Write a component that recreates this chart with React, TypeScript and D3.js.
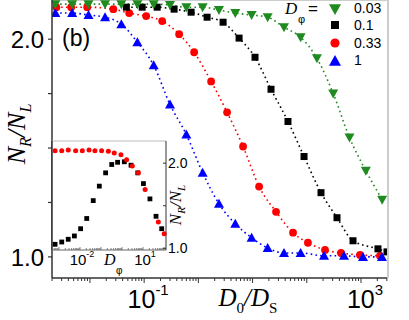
import React from 'react'
import * as d3 from 'd3'

const W = 409
const H = 320

// main panel: N_R/N_L against D0/DS, one series per D_phi
const xGrid = [0.0023, 0.0047, 0.0094, 0.019, 0.038, 0.075, 0.15, 0.3, 0.6, 1.2, 2.4, 4.8, 9.6, 19, 38, 77, 154, 307, 614, 1229, 2458]

const greenX = xGrid
const greenY = [2.161, 2.161, 2.161, 2.161, 2.161, 2.161, 2.161, 2.157, 2.147, 2.147, 2.134, 2.12, 2.111, 2.101, 2.055, 2.009, 1.912, 1.751, 1.548, 1.396, 1.263]

const blackX = [0.047, 0.092, 0.174, 0.357, 0.735, 1.45, 2.86, 5.64, 11.1, 21.9, 45, 89, 183, 361, 713, 2056, 3020]
const blackY = [2.147, 2.147, 2.147, 2.138, 2.124, 2.101, 2.078, 2.005, 1.917, 1.77, 1.622, 1.461, 1.295, 1.18, 1.074, 1.037, 1.023]

const redX = [0.0024, 0.0045, 0.0089, 0.027, 0.053, 0.109, 0.215, 0.442, 0.836, 1.72, 3.39, 6.68, 13.2, 27.1, 55.8, 105, 217, 428, 960, 2239]
const redY = [2.147, 2.147, 2.147, 2.138, 2.12, 2.106, 2.083, 2.023, 1.94, 1.806, 1.664, 1.507, 1.323, 1.207, 1.111, 1.065, 1.032, 1.018, 1.009, 1.005]

const blueX = xGrid.slice(0, 16).concat([208, 486, 1089, 2438])
const blueY = [2.12, 2.12, 2.111, 2.101, 2.069, 1.986, 1.88, 1.7, 1.562, 1.387, 1.244, 1.152, 1.088, 1.041, 1.018, 1.018, 1.005, 1.005, 1.0, 1.0]

const legendLabels = ['0.03', '0.1', '0.33', '1']

// inset: N_R/N_L against D_phi
const insetRedX = [0.00065, 0.00135, 0.00275, 0.0062, 0.0129, 0.0269, 0.0513, 0.107, 0.224, 0.427, 0.891, 1.66, 3.09, 6.03, 12.6, 53.7, 102]
const insetRedY = [2.145, 2.145, 2.153, 2.145, 2.145, 2.153, 2.145, 2.145, 2.14, 2.12, 2.1, 2.04, 1.965, 1.886, 1.69, 1.31, 1.17]
const insetBlackX = [0.00065, 0.00135, 0.00275, 0.0054, 0.0107, 0.0209, 0.0427, 0.0832, 0.166, 0.324, 0.617, 1.29, 2.69, 5.62, 10.5, 21.4, 41.7, 77.6]
const insetBlackY = [1.047, 1.074, 1.106, 1.145, 1.23, 1.35, 1.56, 1.73, 1.886, 1.984, 2.01, 2.016, 1.976, 1.886, 1.76, 1.58, 1.376, 1.23]

const GREEN = '#1f8a1f'
const BLACK = '#000'
const RED = '#ff0000'
const BLUE = '#0000ff'
const SANS = '"Liberation Sans", Arial, sans-serif'
const SERIF = '"Liberation Serif", "Times New Roman", serif'

const plot = { left: 52, right: 387, top: 0, bottom: 278 }
const inset = { left: 52, right: 166, top: 141, bottom: 250 }

const x = d3.scaleLog().domain([Math.pow(10, -2.7), Math.pow(10, 3.48)]).range([plot.left, plot.right])
const y = d3.scaleLinear().domain([0.903, 2.18]).range([plot.bottom, plot.top])
const ix = d3.scaleLog().domain([Math.pow(10, -3.333), Math.pow(10, 2.095)]).range([inset.left, inset.right])
const iy = d3.scaleLinear().domain([0.98, 2.26]).range([inset.bottom, inset.top])

const triUp = (cx: number, cy: number, s = 5) => `M${cx - s},${cy + s * 0.8}L${cx + s},${cy + s * 0.8}L${cx},${cy - s}Z`
const triDown = (cx: number, cy: number, s = 5) => `M${cx - s},${cy - s * 0.8}L${cx + s},${cy - s * 0.8}L${cx},${cy + s}Z`

function dotted(xs: number[], ys: number[], sx: any, sy: any) {
  const pts: [number, number][] = xs.map((v, i) => [sx(v), sy(ys[i])])
  return d3.line().curve(d3.curveMonotoneX)(pts) || ''
}

function logTicks(scale: any) {
  const [a, b] = scale.domain()
  const out: { v: number; major: boolean }[] = []
  for (let e = Math.floor(Math.log10(a)); e <= Math.ceil(Math.log10(b)); e++) {
    for (let m = 1; m < 10; m++) {
      const v = m * Math.pow(10, e)
      if (v >= a && v <= b) out.push({ v, major: m === 1 })
    }
  }
  return out
}

export default function App() {
  const mainTicks = logTicks(x)
  const insetTicks = logTicks(ix)
  const series = [
    { xs: redX, ys: redY, c: RED },
    { xs: blackX, ys: blackY, c: BLACK },
    { xs: blueX, ys: blueY, c: BLUE },
    { xs: greenX, ys: greenY, c: GREEN },
  ]
  return (
    <div style={{ position: 'absolute', left: 0, top: 0 }}>
      <svg width={W} height={H} style={{ display: 'block', background: '#fff' }}>
        <defs>
          <clipPath id="plotClip">
            <rect x={plot.left} y={plot.top} width={plot.right - plot.left} height={plot.bottom - plot.top} />
          </clipPath>
        </defs>

        {/* frame */}
        <line x1={plot.left} x2={plot.right} y1={0.5} y2={0.5} stroke="#ccc" strokeWidth={1} />
        <line x1={plot.right + 1} x2={plot.right + 1} y1={0} y2={plot.bottom} stroke="#ccc" strokeWidth={2} />

        <g clipPath="url(#plotClip)">
          {series.map((s, i) => (
            <path key={i} d={dotted(s.xs, s.ys, x, y)} fill="none" stroke={s.c} strokeWidth={1.6} strokeDasharray="1.6,3.2" />
          ))}
          {redX.map((v, i) => <circle key={'r' + i} cx={x(v)} cy={y(redY[i])} r={3.9} fill={RED} />)}
          {blackX.map((v, i) => <rect key={'k' + i} x={x(v) - 3.5} y={y(blackY[i]) - 3.5} width={7} height={7} fill={BLACK} />)}
          {blueX.map((v, i) => <path key={'b' + i} d={triUp(x(v), y(blueY[i]))} fill={BLUE} />)}
          {greenX.map((v, i) => <path key={'g' + i} d={triDown(x(v), y(greenY[i]))} fill={GREEN} />)}
        </g>

        {/* left axis */}
        <line x1={plot.left} x2={plot.left} y1={0} y2={plot.bottom} stroke="#333" strokeWidth={1.5} />
        {[1.0, 1.25, 1.5, 1.75, 2.0].map(v => (
          <line key={v} x1={plot.left - 4} x2={plot.left} y1={y(v)} y2={y(v)} stroke="#333" strokeWidth={1.2} />
        ))}
        {[1.0, 2.0].map(v => (
          <text key={v} x={44} y={y(v)} dy="0.36em" textAnchor="end" fontFamily={SANS} fontSize={24}>{v.toFixed(1)}</text>
        ))}

        {/* bottom axis */}
        <line x1={plot.left} x2={plot.right} y1={plot.bottom} y2={plot.bottom} stroke="#333" strokeWidth={1.5} />
        {mainTicks.map((t, i) => (
          <line key={i} x1={x(t.v)} x2={x(t.v)} y1={plot.bottom} y2={plot.bottom + (t.major ? 5 : 3)} stroke="#333" strokeWidth={1} />
        ))}
        {[-1, 3].map(e => (
          <text key={e} x={x(Math.pow(10, e)) + 4} y={308} textAnchor="middle" fontFamily={SANS} fontSize={25}>
            10<tspan fontSize={15} dy={-13}>{e}</tspan>
          </text>
        ))}

        {/* axis titles */}
        <text x={248} y={306} textAnchor="middle" fontFamily={SERIF} fontStyle="italic" fontSize={25}>
          D<tspan fontSize={15} dy={7} fontStyle="normal">0</tspan><tspan dy={-7}>/D</tspan><tspan fontSize={15} dy={7} fontStyle="normal">S</tspan>
        </text>
        <text transform="translate(25,134) rotate(-90)" textAnchor="middle" fontFamily={SERIF} fontStyle="italic" fontSize={26}>
          N<tspan fontSize={16} dy={6}>R</tspan><tspan dy={-6}>/N</tspan><tspan fontSize={16} dy={6}>L</tspan>
        </text>
        <text x={62} y={46} fontFamily={SANS} fontSize={23}>(b)</text>

        {/* legend */}
        <text x={285} y={14} fontFamily={SERIF} fontStyle="italic" fontSize={17}>D</text>
        <text x={298} y={23} fontFamily={SANS} fontSize={11}>φ</text>
        <text x={308} y={14} fontFamily={SANS} fontSize={17}>=</text>
        <path d={triDown(335, 9, 6)} fill={GREEN} />
        <rect x={331} y={21} width={8} height={8} fill={BLACK} />
        <circle cx={335} cy={43} r={4.6} fill={RED} />
        <path d={triUp(335, 61, 6)} fill={BLUE} />
        {legendLabels.map((l, i) => (
          <text key={l} x={354} y={[8, 25, 43, 60][i]} dy="0.36em" fontFamily={SANS} fontSize={14}>{l}</text>
        ))}

        {/* inset */}
        <rect x={inset.left} y={inset.top} width={inset.right - inset.left} height={inset.bottom - inset.top} fill="#fff" />
        <line x1={inset.left} x2={inset.right} y1={inset.top} y2={inset.top} stroke="#bbb" strokeWidth={1.2} />
        <line x1={inset.left} x2={inset.right} y1={inset.bottom} y2={inset.bottom} stroke="#666" strokeWidth={1} />
        <line x1={inset.right} x2={inset.right} y1={inset.top} y2={inset.bottom} stroke="#333" strokeWidth={1} />
        <line x1={plot.left} x2={plot.left} y1={inset.top} y2={inset.bottom} stroke="#333" strokeWidth={1.5} />
        {insetTicks.map((t, i) => (
          <line key={i} x1={ix(t.v)} x2={ix(t.v)} y1={inset.bottom} y2={inset.bottom - (t.major ? 3 : 2)} stroke="#666" strokeWidth={0.8} />
        ))}
        {[1.0, 1.5, 2.0].map(v => (
          <line key={v} x1={inset.right - 3} x2={inset.right} y1={iy(v)} y2={iy(v)} stroke="#333" strokeWidth={1} />
        ))}
        {insetBlackX.map((v, i) => <rect key={'ik' + i} x={ix(v) - 2.4} y={iy(insetBlackY[i]) - 2.4} width={4.8} height={4.8} fill={BLACK} />)}
        {insetRedX.map((v, i) => <circle key={'ir' + i} cx={ix(v)} cy={iy(insetRedY[i])} r={2.5} fill={RED} />)}
        {[1.0, 2.0].map(v => (
          <text key={v} x={168} y={iy(v)} dy="0.36em" fontFamily={SANS} fontSize={14}>{v.toFixed(1)}</text>
        ))}
        {[-2, 1].map(e => (
          <text key={e} x={ix(Math.pow(10, e)) + 2} y={265} textAnchor="middle" fontFamily={SANS} fontSize={15}>
            10<tspan fontSize={9} dy={-8}>{e}</tspan>
          </text>
        ))}
        <text x={104} y={265} fontFamily={SERIF} fontStyle="italic" fontSize={16}>D</text>
        <text x={116} y={274} fontFamily={SANS} fontSize={10}>φ</text>
        <text transform="translate(181,205) rotate(-90)" textAnchor="middle" fontFamily={SERIF} fontStyle="italic" fontSize={17}>
          N<tspan fontSize={11} dy={4}>R</tspan><tspan dy={-4}>/N</tspan><tspan fontSize={11} dy={4}>L</tspan>
        </text>
      </svg>
    </div>
  )
}
